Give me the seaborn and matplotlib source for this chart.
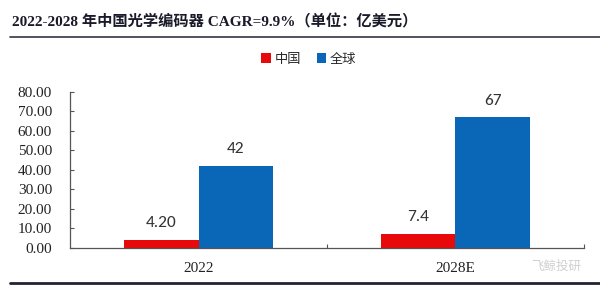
import matplotlib
matplotlib.use("Agg")
import matplotlib.pyplot as plt
import seaborn as sns
import pandas as pd
from matplotlib.lines import Line2D
from matplotlib.patches import Patch

categories = ["2022", "2028E"]
series_names = ["中国", "全球"]
china_values = [4.20, 7.4]
global_values = [42, 67]
china_labels = ["4.20", "7.4"]
global_labels = ["42", "67"]
y_ticks = [0, 10, 20, 30, 40, 50, 60, 70, 80]
title_text = "2022-2028 年中国光学编码器 CAGR=9.9%（单位：亿美元）"
watermark = "飞鲸投研"

sns.set_theme(style="white")
plt.rcParams["font.family"] = ["Liberation Serif", "Noto Sans CJK SC", "DejaVu Sans"]

df = pd.DataFrame({
    "year": categories * 2,
    "series": [series_names[0]] * 2 + [series_names[1]] * 2,
    "value": china_values + global_values,
})
colors = {"中国": "#E80A0A", "全球": "#0A66B7"}

fig = plt.figure(figsize=(6.0, 2.88), dpi=100)
ax = fig.add_axes([0.1167, 0.139, 0.8566, 0.5417])
sns.barplot(data=df, x="year", y="value", hue="series", palette=colors,
            width=0.58, saturation=1, ax=ax, legend=False, linewidth=0, edgecolor="none")

ax.set_ylim(0, 80)
ax.set_xlim(-0.5, 1.5)
ax.set_yticks(y_ticks)
ax.set_yticklabels([f"{v:.2f}" for v in y_ticks], fontsize=11, color="#222222",
                   family=["Liberation Serif"])
ax.set_xticks(range(len(categories)))
ax.set_xticklabels(categories, fontsize=11, color="#222222", family=["Liberation Serif"])
ax.set_xlabel("")
ax.set_ylabel("")
ax.tick_params(axis="x", length=0, pad=10)
ax.set_xticks([0.5, 1.5], minor=True)
ax.tick_params(axis="x", which="minor", direction="in", length=3, width=0.8,
               color="#555555", bottom=True)
ax.tick_params(axis="y", direction="in", length=3, width=0.8, color="#555555",
               pad=13, left=True)
for s in ["top", "right"]:
    ax.spines[s].set_visible(False)
for s in ["left", "bottom"]:
    ax.spines[s].set_color("#555555")
    ax.spines[s].set_linewidth(0.9)

# data labels
for cont, labels in zip(ax.containers, [china_labels, global_labels]):
    ax.bar_label(cont, labels=labels, padding=7, fontsize=12.5, color="#333333",
                 family=["Carlito", "Open Sans", "DejaVu Sans"])

# legend
handles = [Patch(facecolor=colors[n], edgecolor="none") for n in series_names]
fig.legend(handles, series_names, loc="center", bbox_to_anchor=(0.515, 0.795), ncol=2,
           frameon=False, handlelength=0.7, handleheight=0.7, handletextpad=0.3,
           columnspacing=1.2, prop={"family": ["Noto Sans CJK SC"], "size": 9.5})

# title and rules
fig.text(0.02, 0.925, title_text, fontsize=11, fontweight="bold", color="#1a1a2a",
         va="center", ha="left")
fig.add_artist(Line2D([0.017, 1.0], [0.873, 0.873], color="#333344", linewidth=1.2))
fig.add_artist(Line2D([0.017, 1.0], [0.017, 0.017], color="#222233", linewidth=2.0))

fig.text(0.885, 0.075, watermark, fontsize=9, color="#d0d0d0", ha="left", va="center",
         family=["Noto Sans CJK SC"])

fig.savefig("out.png", dpi=100)
